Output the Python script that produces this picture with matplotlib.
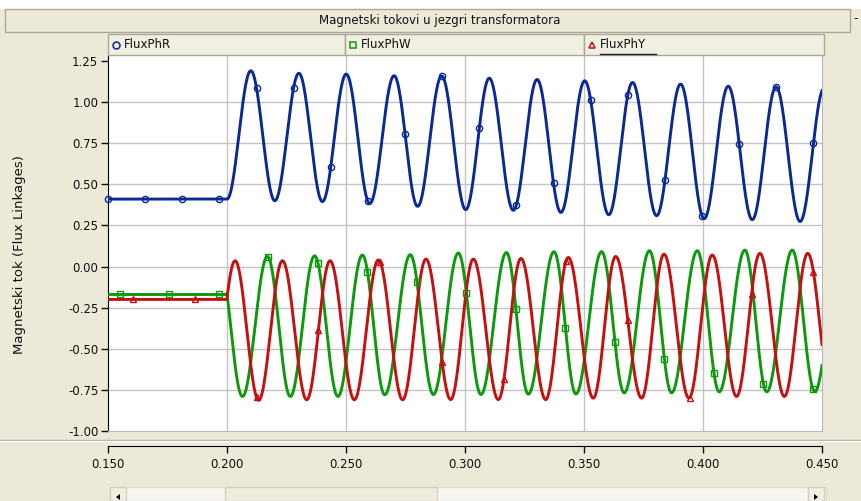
import numpy as np
import matplotlib
matplotlib.use("Agg")
import matplotlib.pyplot as plt
from matplotlib.patches import Rectangle, Polygon
from matplotlib.lines import Line2D

W, H = 861, 501

title = "Magnetski tokovi u jezgri transformatora"
ylabel = "Magnetski tok (Flux Linkages)"
names = ["FluxPhR", "FluxPhW", "FluxPhY"]
colors = ["#0a2896", "#0c990c", "#c41010"]
markers = ["o", "s", "^"]

x_ticks = [0.150, 0.200, 0.250, 0.300, 0.350, 0.400, 0.450]
y_ticks = [-1.00, -0.75, -0.50, -0.25, 0.00, 0.25, 0.50, 0.75, 1.00, 1.25]

t_switch = 0.200

# FluxPhR: flat level before switching, then successive peak/trough instants
r_pre = 0.41
r_ext_t = [0.2000, 0.2100, 0.2201, 0.2302, 0.2401, 0.2501, 0.2600, 0.2702,
           0.2801, 0.2902, 0.3003, 0.3102, 0.3203, 0.3303, 0.3403, 0.3503,
           0.3604, 0.3704, 0.3805, 0.3906, 0.4005, 0.4106, 0.4207, 0.4307,
           0.4408, 0.4509]
r_ext_v = [0.41, 1.19, 0.400, 1.175, 0.395, 1.170, 0.383, 1.160,
           0.366, 1.158, 0.346, 1.145, 0.342, 1.137, 0.329, 1.129,
           0.315, 1.119, 0.309, 1.109, 0.291, 1.096, 0.285, 1.092,
           0.274, 1.085]

# FluxPhW
w_pre = -0.17
w_ext_t = [0.1966, 0.2065, 0.2170, 0.2266, 0.2368, 0.2466, 0.2569, 0.2663,
           0.2770, 0.2867, 0.2972, 0.3067, 0.3174, 0.3266, 0.3374, 0.3466,
           0.3574, 0.3669, 0.3775, 0.3868, 0.3976, 0.4068, 0.4176, 0.4268,
           0.4375, 0.4470, 0.4576]
w_ext_v = [0.060, -0.790, 0.061, -0.790, 0.065, -0.790, 0.070, -0.780,
           0.072, -0.778, 0.082, -0.778, 0.085, -0.776, 0.090, -0.775,
           0.090, -0.768, 0.096, -0.768, 0.096, -0.762, 0.100, -0.762,
           0.100, -0.760, 0.100]

# FluxPhY
y_pre = -0.20
y_ext_t = [0.1936, 0.2034, 0.2133, 0.2233, 0.2335, 0.2433, 0.2535, 0.2636,
           0.2738, 0.2836, 0.2940, 0.3035, 0.3140, 0.3235, 0.3339, 0.3434,
           0.3539, 0.3633, 0.3742, 0.3836, 0.3941, 0.4039, 0.4141, 0.4239,
           0.4342, 0.4440, 0.4542]
y_ext_v = [-0.810, 0.035, -0.813, 0.035, -0.810, 0.035, -0.810, 0.040,
           -0.810, 0.045, -0.809, 0.045, -0.809, 0.049, -0.809, 0.055,
           -0.800, 0.061, -0.800, 0.075, -0.800, 0.070, -0.790, 0.080,
           -0.790, 0.080, -0.790]

# symbol spacing for each channel (first symbol, interval, count)
mark_start = [0.1500, 0.1550, 0.1604]
mark_step = [0.0156, 0.0208, 0.0260]
mark_count = [20, 15, 12]


def flux(t, pre, ext_t, ext_v):
    out = np.full_like(t, pre, dtype=float)
    for t0, t1, v0, v1 in zip(ext_t[:-1], ext_t[1:], ext_v[:-1], ext_v[1:]):
        m = (t >= t0) & (t <= t1) & (t >= t_switch)
        f = (t[m] - t0) / (t1 - t0)
        out[m] = v0 + (v1 - v0) * (1 - np.cos(np.pi * f)) / 2
    return out


def fx(px):
    return px / W


def fy(py):
    return 1 - py / H


bg = "#ece9d8"
fig = plt.figure(figsize=(W / 100, H / 100), dpi=100, facecolor=bg)

# white strip on top, title bar
fig.patches.append(Rectangle((0, fy(9)), 1, 9 / H, transform=fig.transFigure,
                             facecolor="white", edgecolor="none"))
fig.patches.append(Rectangle((fx(5), fy(32)), fx(845), 23 / H, transform=fig.transFigure,
                             facecolor=bg, edgecolor="#aca899", lw=1))
fig.text(fx(440), fy(20.5), title, ha="center", va="center", fontsize=8.5, color="#101010")
fig.text(fx(856), fy(19), "-", ha="center", va="center", fontsize=9, color="#101010")

# legend row
cells = [(108, 345), (345, 584), (584, 824)]
for (x0, x1), name, c, mk in zip(cells, names, colors, markers):
    fig.patches.append(Rectangle((fx(x0), fy(55)), fx(x1 - x0), 21 / H,
                                 transform=fig.transFigure, facecolor="#f1efe2",
                                 edgecolor="#aca899", lw=1))
    fig.lines.append(Line2D([fx(x0 + 8)], [fy(45)], transform=fig.transFigure,
                            marker=mk, ms=5, mfc="none", mec=c, mew=1.1, ls="none"))
    fig.text(fx(x0 + 16), fy(45), name, ha="left", va="center", fontsize=8.5, color="#101010")
fig.lines.append(Line2D([fx(600), fx(656)], [fy(54), fy(54)], transform=fig.transFigure,
                        color="#202020", lw=1))

# main plotting area
ax = fig.add_axes([fx(108), fy(431), fx(714), 375 / H])
ax.set_facecolor("white")
ax.set_xlim(x_ticks[0], x_ticks[-1])
ax.set_ylim(-1.0, 1.28)
for v in y_ticks[1:-1]:
    ax.axhline(v, color="#c4c4c4", lw=1, zorder=0)
for v in x_ticks[1:-1]:
    ax.axvline(v, color="#c4c4c4", lw=1, zorder=0)
ax.set_xticks([])
ax.set_yticks(y_ticks)
ax.set_yticklabels([f"{v:.2f}" for v in y_ticks])
ax.tick_params(axis="y", direction="out", length=5, width=1, labelsize=8.5,
               colors="#101010", pad=2)
ax.spines["left"].set_color("black")
ax.spines["top"].set_visible(False)
for s in ("right", "bottom"):
    ax.spines[s].set_color("#b8b8b8")
fig.text(fx(20), fy(255), ylabel, rotation=90, ha="center", va="center",
         fontsize=9.5, color="#101010")

t = np.linspace(0.15, 0.45, 6001)
series = [(r_pre, r_ext_t, r_ext_v), (w_pre, w_ext_t, w_ext_v), (y_pre, y_ext_t, y_ext_v)]
for (pre, et, ev), c, mk, m0, ms, mn in zip(series, colors, markers,
                                            mark_start, mark_step, mark_count):
    ax.plot(t, flux(t, pre, et, ev), color=c, lw=2.1, zorder=3)
    mt = m0 + ms * np.arange(mn)
    ax.plot(mt, flux(mt, pre, et, ev), ls="none", marker=mk, ms=4.5, mfc="none",
            mec=c, mew=1, zorder=4, clip_on=False)

# separator under the plot
fig.lines.append(Line2D([0, 1], [fy(440), fy(440)], transform=fig.transFigure,
                        color="#aca899", lw=1))
fig.lines.append(Line2D([0, 1], [fy(441), fy(441)], transform=fig.transFigure,
                        color="white", lw=1))

# time axis
axx = fig.add_axes([fx(108), fy(446), fx(714), 0.0001])
axx.set_facecolor("none")
axx.set_xlim(x_ticks[0], x_ticks[-1])
axx.set_xticks(x_ticks)
axx.set_xticklabels([f"{v:.3f}" for v in x_ticks])
axx.set_yticks([])
for s in ("left", "right", "top"):
    axx.spines[s].set_visible(False)
axx.spines["bottom"].set_color("black")
axx.tick_params(axis="x", direction="out", length=5, width=1, labelsize=8.5,
                colors="#101010", pad=4)

# scrollbar
fig.patches.append(Rectangle((fx(110), 0), fx(716), 14 / H, transform=fig.transFigure,
                             facecolor="#f6f5f0", edgecolor="#e0ded2", lw=1))
fig.patches.append(Rectangle((fx(225), 0), fx(212), 14 / H, transform=fig.transFigure,
                             facecolor="#efebde", edgecolor="#d4d0c0", lw=1))
for x0 in (110, 808):
    fig.patches.append(Rectangle((fx(x0), 0), fx(16), 14 / H, transform=fig.transFigure,
                                 facecolor="#f1efe2", edgecolor="#d4d0c0", lw=1))
fig.patches.append(Polygon([(fx(120), fy(494)), (fx(116), fy(497)), (fx(120), fy(500))],
                           transform=fig.transFigure, facecolor="black", edgecolor="none"))
fig.patches.append(Polygon([(fx(814), fy(494)), (fx(818), fy(497)), (fx(814), fy(500))],
                           transform=fig.transFigure, facecolor="black", edgecolor="none"))

fig.savefig("out.png", dpi=100, facecolor=fig.get_facecolor())
